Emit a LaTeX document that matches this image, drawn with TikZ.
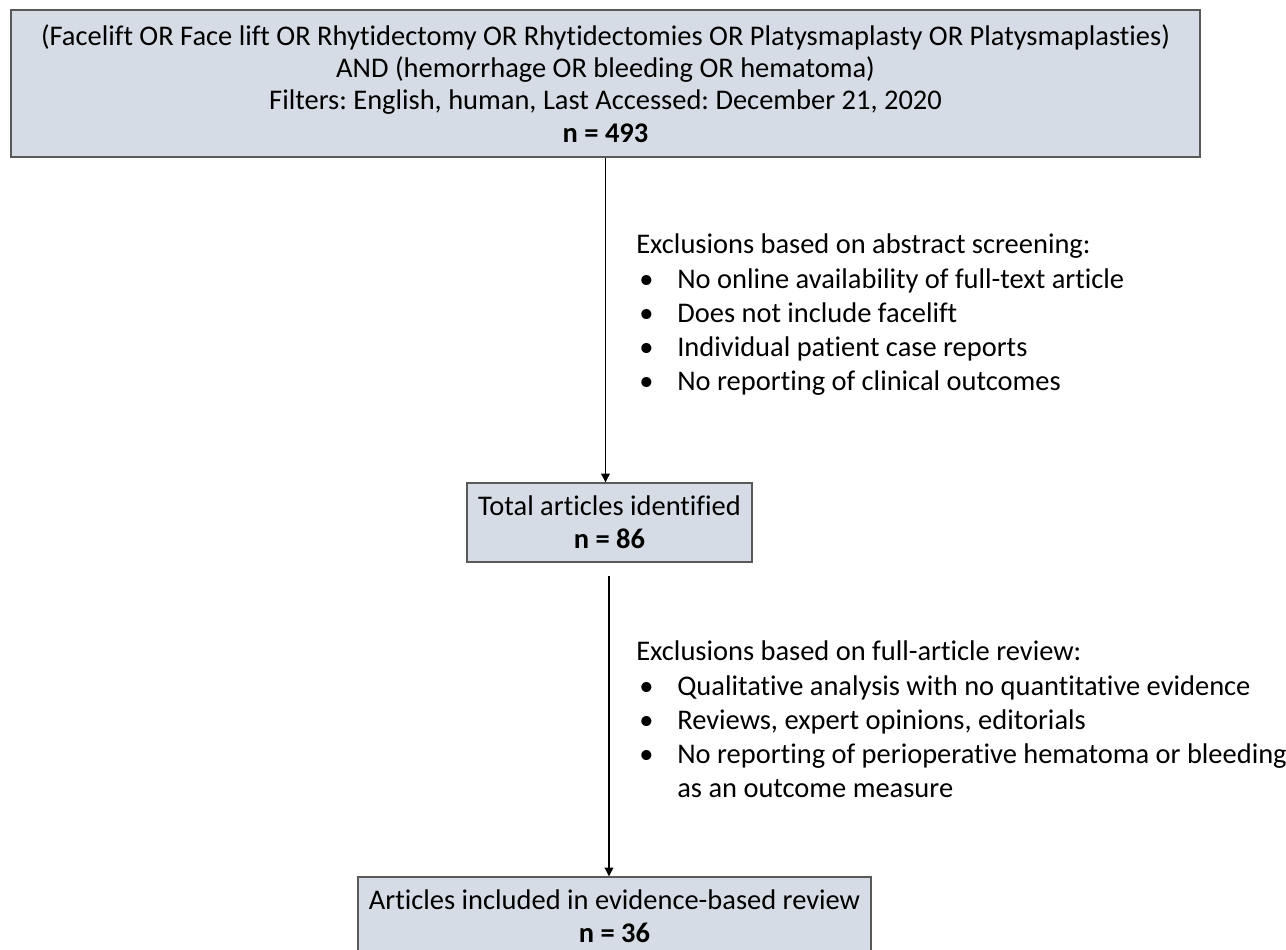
\documentclass[tikz,border=0pt]{standalone}
\usepackage{fontspec}
\setmainfont[Ligatures=NoCommon]{Carlito}
\frenchspacing
\usetikzlibrary{arrows.meta}

\definecolor{boxfill}{HTML}{D6DCE5}
\definecolor{boxline}{HTML}{595959}

\tikzset{
    box/.style={draw=boxline, fill=boxfill, line width=0.8pt, align=center, inner sep=0pt,
        font=\fontsize{16.2}{19}\selectfont},
    flow/.style={-{Triangle[length=5pt,width=5pt]}, line width=0.7pt},
    excl/.style={anchor=base west, inner sep=0pt, align=left,
        font=\fontsize{16.2}{19.4}\selectfont}
}
\newcommand{\exclhead}[1]{\multicolumn{2}{@{}l}{#1}}

\begin{document}
\begin{tikzpicture}[x=0.02cm, y=0.02cm]
    \useasboundingbox (0,0) rectangle (1286,950);

    \node[box, minimum width=23.78cm, minimum height=2.94cm,
          font=\fontsize{16.2}{18.4}\selectfont] (query) at (605.5,866.5)
        {(Facelift OR Face lift OR Rhytidectomy OR Rhytidectomies OR Platysmaplasty OR Platysmaplasties)\\
         AND (hemorrhage OR bleeding OR hematoma)\\
         Filters: English, human, Last Accessed: December 21, 2020\\
         \textbf{n = 493}};
    \node[box, minimum width=5.7cm, minimum height=1.58cm] (total) at (609.5,427.5)
        {Total articles identified\\ \textbf{n = 86}};
    \node[box, minimum width=10.26cm, minimum height=1.58cm] (included) at (614.5,33.5)
        {Articles included in evidence-based review\\ \textbf{n = 36}};

    % exclusion notes
    \node[excl] (abstract) at (636,696) {%
        \begin{tabular}[t]{@{\hspace{0.06cm}}p{0.76cm}@{}l}
        \exclhead{Exclusions based on abstract screening:}\\
        \textbullet & No online availability of full-text article\\
        \textbullet & Does not include facelift\\
        \textbullet & Individual patient case reports\\
        \textbullet & No reporting of clinical outcomes
        \end{tabular}};
    \node[excl] (fullart) at (636,289) {%
        \begin{tabular}[t]{@{\hspace{0.06cm}}p{0.76cm}@{}l}
        \exclhead{Exclusions based on full-article review:}\\
        \textbullet & Qualitative analysis with no quantitative evidence\\
        \textbullet & Reviews, expert opinions, editorials\\
        \textbullet & No reporting of perioperative hematoma or bleeding\\
                    & as an outcome measure
        \end{tabular}};

    \coordinate (gap) at (609,374);
    \draw[flow] (query.south) -- (query.south |- total.north);
    \draw[flow] (gap) -- (gap |- included.north);
\end{tikzpicture}
\end{document}
